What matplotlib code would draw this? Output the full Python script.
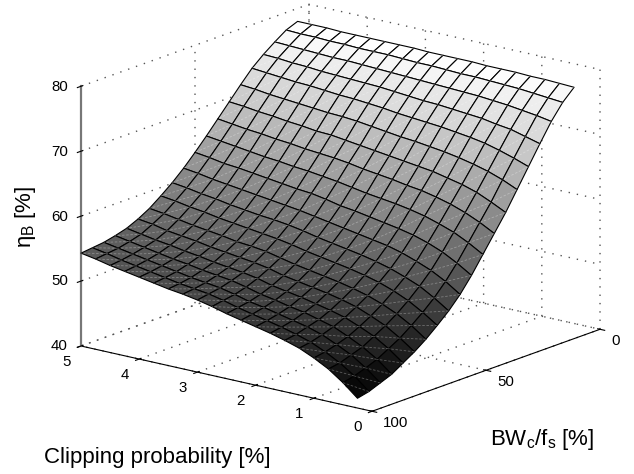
import numpy as np
import matplotlib
matplotlib.use('Agg')
import matplotlib.pyplot as plt
from mpl_toolkits.mplot3d.art3d import Line3DCollection

# grid of the surface
bw = [5, 10, 15, 20, 25, 30, 35, 40, 45, 50, 55, 60, 65, 70, 75, 80, 85, 90, 95, 100]
clip = [0.25, 0.5, 0.75, 1, 1.25, 1.5, 1.75, 2, 2.25, 2.5, 2.75, 3, 3.25, 3.5, 3.75, 4, 4.25, 4.5, 4.75, 5]
# efficiency [%], one row per clipping probability
eta = [
    [77.4,75.7,73.4,70.6,67.7,64.8,61.9,59.3,56.7,54.1,51.8,49.9,48.3,46.8,45.5,44.4,43.3,42.6,41.9,41.5],
    [77.5,75.9,73.8,71.2,68.5,65.8,63.0,60.5,58.0,55.5,53.3,51.4,49.8,48.4,47.1,46.1,45.1,44.4,43.8,43.4],
    [77.6,76.1,74.1,71.8,69.2,66.6,64.0,61.5,59.1,56.7,54.5,52.7,51.1,49.7,48.5,47.5,46.5,45.9,45.3,45.0],
    [77.6,76.3,74.4,72.1,69.8,67.2,64.7,62.3,59.9,57.6,55.4,53.6,52.1,50.7,49.5,48.5,47.6,47.0,46.5,46.2],
    [77.7,76.4,74.6,72.5,70.2,67.7,65.2,62.9,60.6,58.3,56.2,54.4,52.9,51.5,50.4,49.4,48.6,48.0,47.5,47.2],
    [77.7,76.5,74.8,72.7,70.5,68.1,65.7,63.4,61.1,58.8,56.8,55.0,53.5,52.1,51.0,50.0,49.2,48.7,48.2,47.9],
    [77.7,76.6,74.9,72.9,70.8,68.4,66.0,63.7,61.5,59.2,57.2,55.5,54.0,52.6,51.5,50.5,49.8,49.2,48.8,48.5],
    [77.8,76.6,75.0,73.1,71.0,68.7,66.3,64.1,61.8,59.6,57.6,55.9,54.4,53.0,51.9,51.0,50.2,49.7,49.3,49.0],
    [77.8,76.7,75.1,73.2,71.2,68.9,66.6,64.4,62.1,60.0,58.0,56.3,54.8,53.4,52.3,51.4,50.7,50.2,49.8,49.5],
    [77.8,76.8,75.2,73.4,71.4,69.2,66.9,64.7,62.5,60.3,58.4,56.7,55.2,53.8,52.7,51.8,51.1,50.6,50.3,50.0],
    [77.8,76.8,75.3,73.6,71.7,69.5,67.2,65.1,62.9,60.8,58.8,57.2,55.7,54.3,53.3,52.4,51.7,51.2,50.9,50.6],
    [77.9,76.9,75.4,73.8,71.9,69.8,67.5,65.4,63.2,61.2,59.2,57.6,56.1,54.8,53.7,52.8,52.2,51.7,51.4,51.1],
    [77.9,77.0,75.5,73.9,72.1,70.0,67.8,65.6,63.5,61.4,59.5,57.9,56.4,55.1,54.0,53.1,52.5,52.0,51.7,51.5],
    [77.9,77.0,75.6,74.0,72.2,70.1,67.9,65.8,63.7,61.7,59.8,58.1,56.7,55.3,54.3,53.4,52.8,52.3,52.0,51.8],
    [77.9,77.0,75.7,74.1,72.4,70.3,68.2,66.1,64.0,62.0,60.1,58.4,57.0,55.7,54.6,53.8,53.2,52.7,52.4,52.2],
    [77.9,77.1,75.7,74.2,72.6,70.5,68.4,66.3,64.2,62.3,60.4,58.7,57.3,56.0,55.0,54.1,53.5,53.1,52.8,52.6],
    [77.9,77.1,75.8,74.4,72.7,70.7,68.7,66.6,64.5,62.6,60.7,59.1,57.7,56.3,55.3,54.5,53.9,53.5,53.2,53.0],
    [78.0,77.2,75.9,74.5,72.9,70.9,68.9,66.8,64.8,62.8,61.0,59.4,58.0,56.7,55.6,54.8,54.3,53.9,53.6,53.4],
    [78.0,77.2,76.0,74.7,73.1,71.2,69.2,67.1,65.1,63.2,61.4,59.8,58.4,57.1,56.1,55.2,54.7,54.3,54.1,53.9],
    [78.0,77.3,76.1,74.8,73.3,71.4,69.4,67.4,65.4,63.5,61.7,60.1,58.7,57.4,56.4,55.6,55.1,54.7,54.5,54.3],
]
bw_ticks = [0, 50, 100]
clip_ticks = [0, 1, 2, 3, 4, 5]
eta_ticks = [40, 50, 60, 70, 80]

plt.rcParams['font.family'] = ['Liberation Sans', 'DejaVu Sans']
plt.rcParams['mathtext.fontset'] = 'custom'
plt.rcParams['mathtext.rm'] = 'Liberation Sans'
plt.rcParams['grid.linestyle'] = (0, (1, 5))
plt.rcParams['grid.linewidth'] = 1.0
plt.rcParams['grid.color'] = '#555555'

W, H = 634., 474.
fig = plt.figure(figsize=(W / 100., H / 100.), dpi=100)
ax = fig.add_axes([47.2 / W, -27.1 / H, 571.2 / W, 571.2 / H], projection='3d', computed_zorder=False)
ax.set_proj_type('ortho')
ax.view_init(elev=16.5, azim=-141.7)
ax.set_box_aspect((368, 371, 271))
ax.set_xlim(100, 0)
ax.set_ylim(0, 5)
ax.set_zlim(40, 80)

X, Y = np.meshgrid(bw, clip)
Z = np.array(eta)
ax.plot_surface(X, Y, Z, rstride=1, cstride=1, cmap='gray', vmin=41.5, vmax=77.5,
                edgecolor='k', linewidth=0.8, shade=False, antialiased=True)

# faint seams across the cells, as in the original rendering
P = np.dstack((X, Y, Z))
seams = np.stack((P[:-1, :-1].reshape(-1, 3), P[1:, 1:].reshape(-1, 3)), axis=1)
ax.add_collection3d(Line3DCollection(seams, colors='w', linewidths=0.6, alpha=0.3,
                                     linestyles=[(0, (3, 2))]))

ax.set_xticks(bw_ticks)
ax.set_yticks(clip_ticks)
ax.set_zticks(eta_ticks)
ax.tick_params(labelsize=10.8)
ax.tick_params(axis='x', pad=0)
ax.tick_params(axis='y', pad=2)
ax.tick_params(axis='z', pad=-2.6)
for a in (ax.xaxis, ax.yaxis, ax.zaxis):
    a.set_pane_color((1, 1, 1, 0))
    a.pane.set_edgecolor((1, 1, 1, 0))
    a.line.set_color('k')
    a.line.set_linewidth(0.8)
ax.zaxis.line.set_color('#777777')
ax.zaxis.line.set_linewidth(1.6)

for t in ax.get_xticklabels():
    t.set_ha('left')
    t.set_va('center')
for t in ax.get_yticklabels():
    t.set_ha('right')
    t.set_va('center')
for t in ax.get_zticklabels():
    t.set_ha('right')
    t.set_va('center')

fig.text(44 / W, 1 - 457. / H, 'Clipping probability [%]', fontsize=16, va='center')
fig.text(490 / W, 1 - 440. / H, r'BW$_{\rm c}$/f$_{\rm s}$ [%]', fontsize=16, va='center')
fig.text(26 / W, 1 - 217. / H, r'η$_{\rm B}$ [%]', fontsize=16, rotation=90, va='center', ha='center')

fig.savefig('out.png', dpi=100)
